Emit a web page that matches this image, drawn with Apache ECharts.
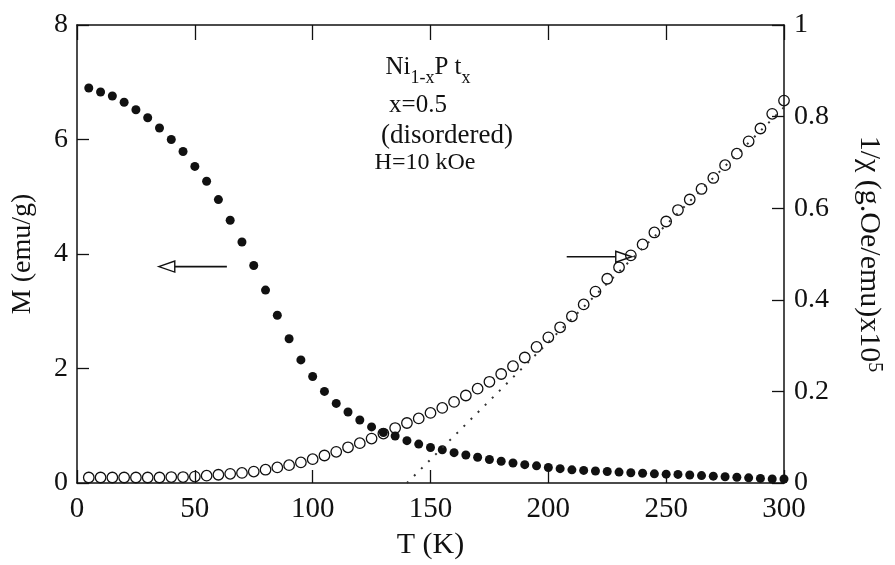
<!DOCTYPE html>
<html>
<head>
<meta charset="utf-8">
<title>Ni1-xPtx M and 1/chi vs T</title>
<script src="https://cdn.jsdelivr.net/npm/echarts@6/dist/echarts.min.js"></script>
<style>
    html, body {margin: 0; padding: 0; background: #fff;}
    #container {width: 895px; height: 565px;}
</style>
</head>
<body>
<div id="container"></div>
<script>
// temperature points (K), same for both series
var temps = [5, 10, 15, 20, 25, 30, 35, 40, 45, 50, 55, 60, 65, 70, 75, 80, 85, 90, 95, 100,
    105, 110, 115, 120, 125, 130, 135, 140, 145, 150, 155, 160, 165, 170, 175, 180, 185, 190, 195, 200,
    205, 210, 215, 220, 225, 230, 235, 240, 245, 250, 255, 260, 265, 270, 275, 280, 285, 290, 295, 300];
// M (emu/g), filled circles, left axis
var magnet = [6.90, 6.83, 6.76, 6.65, 6.52, 6.38, 6.20, 6.00, 5.79, 5.53, 5.27, 4.95, 4.59, 4.21, 3.80, 3.37, 2.93, 2.52, 2.15, 1.86,
    1.60, 1.39, 1.24, 1.10, 0.98, 0.88, 0.82, 0.74, 0.68, 0.62, 0.58, 0.53, 0.49, 0.45, 0.41, 0.38, 0.35, 0.32, 0.30, 0.27,
    0.25, 0.23, 0.22, 0.21, 0.20, 0.19, 0.18, 0.17, 0.16, 0.155, 0.15, 0.14, 0.13, 0.12, 0.11, 0.10, 0.09, 0.08, 0.07, 0.07];
// 1/chi (g.Oe/emu) x10^5, open circles, right axis
var invChi = [0.012, 0.012, 0.012, 0.012, 0.012, 0.012, 0.012, 0.013, 0.013, 0.014, 0.016, 0.018, 0.020, 0.022, 0.025, 0.029, 0.034, 0.039, 0.045, 0.052,
    0.060, 0.068, 0.078, 0.087, 0.097, 0.108, 0.120, 0.131, 0.141, 0.153, 0.164, 0.177, 0.191, 0.206, 0.221, 0.238, 0.255, 0.274, 0.297, 0.318,
    0.340, 0.364, 0.390, 0.418, 0.446, 0.471, 0.497, 0.521, 0.547, 0.571, 0.596, 0.619, 0.642, 0.666, 0.694, 0.719, 0.746, 0.774, 0.806, 0.835];
// dotted Curie-Weiss extrapolation of 1/chi
var fitLine = [[140, 0], [300, 0.82]];
// arrows: [tailT, tailY, tipT, tipY]
var arrowM = [[63.6, 3.78, 34.7, 3.78]];
var arrowChi = [[207.8, 0.494, 235.4, 0.494]];

var serif = 'Liberation Serif';
var ink = '#111';

var dom = document.getElementById('container');
var myChart = echarts.init(dom, null, {renderer: 'canvas'});

var mData = [];
var chiData = [];
for (var i = 0; i < temps.length; i++) {
    mData.push([temps[i], magnet[i]]);
    chiData.push([temps[i], invChi[i]]);
}

function drawArrow(params, api) {
    var p0 = api.coord([api.value(0), api.value(1)]);
    var p1 = api.coord([api.value(2), api.value(3)]);
    var dir = p1[0] > p0[0] ? 1 : -1;
    var headLen = 16, half = 5.5;
    var bx = p1[0] - dir * headLen;
    return {
        type: 'group',
        children: [
            {type: 'line', shape: {x1: p0[0], y1: p0[1], x2: bx, y2: p1[1]}, style: {stroke: ink, lineWidth: 1.6}},
            {type: 'polygon', shape: {points: [[p1[0], p1[1]], [bx, p1[1] - half], [bx, p1[1] + half]]},
                style: {fill: '#fff', stroke: ink, lineWidth: 1.4}}
        ]
    };
}

var option = {
    backgroundColor: '#fff',
    animation: false,
    grid: {left: 77, right: 111, top: 25, bottom: 75, show: false},
    xAxis: [
        {
            type: 'value', min: 0, max: 300, interval: 50, position: 'bottom',
            name: 'T (K)', nameLocation: 'middle', nameGap: 47,
            nameTextStyle: {color: ink, fontFamily: serif, fontSize: 30},
            axisLine: {show: true, onZero: false, lineStyle: {color: ink, width: 1.5}},
            axisTick: {show: true, inside: true, length: 13, lineStyle: {color: ink, width: 1.3}},
            axisLabel: {color: ink, fontFamily: serif, fontSize: 29, margin: 12},
            splitLine: {show: false}
        },
        {
            type: 'value', min: 0, max: 300, interval: 50, position: 'top',
            axisLine: {show: true, onZero: false, lineStyle: {color: ink, width: 1.5}},
            axisTick: {show: true, inside: true, length: 15, lineStyle: {color: ink, width: 1.3}},
            axisLabel: {show: false},
            splitLine: {show: false}
        }
    ],
    yAxis: [
        {
            type: 'value', min: 0, max: 8, interval: 2, position: 'left',
            name: 'M (emu/g)', nameLocation: 'middle', nameGap: 40, nameRotate: 90,
            nameTextStyle: {color: ink, fontFamily: serif, fontSize: 28},
            axisLine: {show: true, onZero: false, lineStyle: {color: ink, width: 1.5}},
            axisTick: {show: true, inside: true, length: 12, lineStyle: {color: ink, width: 1.3}},
            axisLabel: {color: ink, fontFamily: serif, fontSize: 28, margin: 9},
            splitLine: {show: false}
        },
        {
            type: 'value', min: 0, max: 1, interval: 0.2, position: 'right',
            name: '1/χ (g.Oe/emu)x10{sup|5}', nameLocation: 'middle', nameGap: 70, nameRotate: -90,
            nameTextStyle: {color: ink, fontFamily: serif, fontSize: 30,
                rich: {sup: {fontFamily: serif, fontSize: 20, color: ink, verticalAlign: 'top'}}},
            axisLine: {show: true, onZero: false, lineStyle: {color: ink, width: 1.5}},
            axisTick: {show: true, inside: true, length: 12, lineStyle: {color: ink, width: 1.3}},
            axisLabel: {color: ink, fontFamily: serif, fontSize: 28, margin: 10},
            splitLine: {show: false}
        }
    ],
    graphic: [
        {
            type: 'text', x: 428, y: 68,
            style: {
                text: '{m|Ni}{s|1-x}{m|P t}{s|x}',
                align: 'center', verticalAlign: 'middle',
                rich: {
                    m: {fontFamily: serif, fontSize: 25, lineHeight: 27, verticalAlign: 'top', fill: ink},
                    s: {fontFamily: serif, fontSize: 18, lineHeight: 18, verticalAlign: 'top', padding: [15, 0, 0, 0], fill: ink}
                }
            }
        },
        {type: 'text', x: 418, y: 105, style: {text: 'x=0.5', fontFamily: serif, fontSize: 25, fill: ink, align: 'center', verticalAlign: 'middle'}},
        {type: 'text', x: 447, y: 136, style: {text: '(disordered)', fontFamily: serif, fontSize: 27, fill: ink, align: 'center', verticalAlign: 'middle'}},
        {type: 'text', x: 425, y: 163, style: {text: 'H=10 kOe', fontFamily: serif, fontSize: 24, fill: ink, align: 'center', verticalAlign: 'middle'}}
    ],
    series: [
        {
            name: 'fit', type: 'line', xAxisIndex: 0, yAxisIndex: 1,
            data: fitLine, symbol: 'none', silent: true,
            lineStyle: {color: '#333', width: 2, type: [2, 8]}
        },
        {
            name: '1/chi', type: 'scatter', xAxisIndex: 0, yAxisIndex: 1,
            data: chiData, symbol: 'circle', symbolSize: 10.5,
            itemStyle: {color: 'rgba(0,0,0,0)', borderColor: ink, borderWidth: 1.3, opacity: 1}
        },
        {
            name: 'M', type: 'scatter', xAxisIndex: 0, yAxisIndex: 0,
            data: mData, symbol: 'circle', symbolSize: 9,
            itemStyle: {color: ink, opacity: 1}
        },
        {
            name: 'arrowM', type: 'custom', xAxisIndex: 0, yAxisIndex: 0,
            renderItem: drawArrow, data: arrowM, encode: {x: [0, 2], y: [1, 3]}, silent: true
        },
        {
            name: 'arrowChi', type: 'custom', xAxisIndex: 0, yAxisIndex: 1,
            renderItem: drawArrow, data: arrowChi, encode: {x: [0, 2], y: [1, 3]}, silent: true
        }
    ]
};
myChart.setOption(option, true);
</script>
</body>
</html>
